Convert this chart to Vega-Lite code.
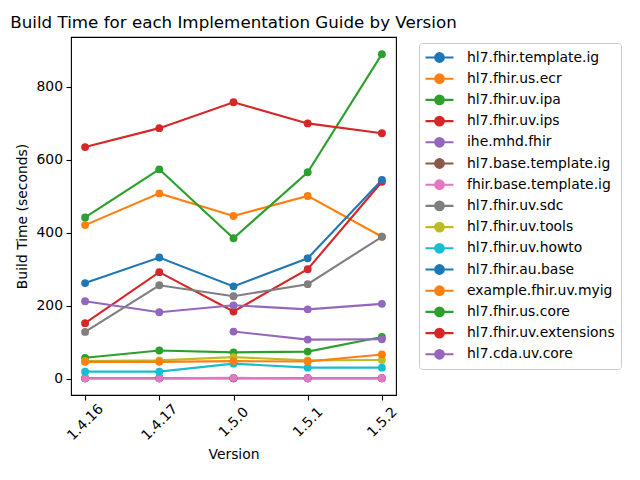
{
  "$schema": "https://vega.github.io/schema/vega-lite/v6.json",
  "autosize": "none",
  "width": 325,
  "height": 358,
  "padding": {"left": 71, "top": 37, "right": 244, "bottom": 85},
  "background": "white",
  "title": {"text": "Build Time for each Implementation Guide by Version", "font": "DejaVu Sans", "fontSize": 16.7, "fontWeight": "normal", "color": "black", "anchor": "middle", "baseline": "alphabetic", "offset": 9, "dy": 17},
  "config": {
    "view": {"stroke": "black", "strokeWidth": 1.1},
    "axis": {"labelFont": "DejaVu Sans", "labelFontSize": 13.9, "labelColor": "black", "titleFont": "DejaVu Sans", "titleFontSize": 13.9, "titleFontWeight": "normal", "titleColor": "black", "tickColor": "black", "tickWidth": 1.1, "tickSize": 5, "domain": false, "grid": false, "labelFlush": false, "labelOverlap": false}
  },
  "data": {"values": [
    {"ig": "hl7.fhir.template.ig", "version": "1.4.16", "time": 1},
    {"ig": "hl7.fhir.template.ig", "version": "1.4.17", "time": 1},
    {"ig": "hl7.fhir.template.ig", "version": "1.5.0", "time": 1},
    {"ig": "hl7.fhir.template.ig", "version": "1.5.1", "time": 1},
    {"ig": "hl7.fhir.template.ig", "version": "1.5.2", "time": 1},
    {"ig": "hl7.fhir.us.ecr", "version": "1.4.16", "time": 421},
    {"ig": "hl7.fhir.us.ecr", "version": "1.4.17", "time": 508},
    {"ig": "hl7.fhir.us.ecr", "version": "1.5.0", "time": 446},
    {"ig": "hl7.fhir.us.ecr", "version": "1.5.1", "time": 501},
    {"ig": "hl7.fhir.us.ecr", "version": "1.5.2", "time": 389},
    {"ig": "hl7.fhir.uv.ipa", "version": "1.4.16", "time": 57},
    {"ig": "hl7.fhir.uv.ipa", "version": "1.4.17", "time": 77},
    {"ig": "hl7.fhir.uv.ipa", "version": "1.5.0", "time": 72},
    {"ig": "hl7.fhir.uv.ipa", "version": "1.5.1", "time": 74},
    {"ig": "hl7.fhir.uv.ipa", "version": "1.5.2", "time": 114},
    {"ig": "hl7.fhir.uv.ips", "version": "1.4.16", "time": 152},
    {"ig": "hl7.fhir.uv.ips", "version": "1.4.17", "time": 292},
    {"ig": "hl7.fhir.uv.ips", "version": "1.5.0", "time": 184},
    {"ig": "hl7.fhir.uv.ips", "version": "1.5.1", "time": 300},
    {"ig": "hl7.fhir.uv.ips", "version": "1.5.2", "time": 540},
    {"ig": "ihe.mhd.fhir", "version": "1.4.16", "time": 212},
    {"ig": "ihe.mhd.fhir", "version": "1.4.17", "time": 182},
    {"ig": "ihe.mhd.fhir", "version": "1.5.0", "time": 201},
    {"ig": "ihe.mhd.fhir", "version": "1.5.1", "time": 190},
    {"ig": "ihe.mhd.fhir", "version": "1.5.2", "time": 205},
    {"ig": "hl7.base.template.ig", "version": "1.4.16", "time": 1},
    {"ig": "hl7.base.template.ig", "version": "1.4.17", "time": 1},
    {"ig": "hl7.base.template.ig", "version": "1.5.0", "time": 1},
    {"ig": "hl7.base.template.ig", "version": "1.5.1", "time": 1},
    {"ig": "hl7.base.template.ig", "version": "1.5.2", "time": 1},
    {"ig": "fhir.base.template.ig", "version": "1.4.16", "time": 1},
    {"ig": "fhir.base.template.ig", "version": "1.4.17", "time": 1},
    {"ig": "fhir.base.template.ig", "version": "1.5.0", "time": 2},
    {"ig": "fhir.base.template.ig", "version": "1.5.1", "time": 1},
    {"ig": "fhir.base.template.ig", "version": "1.5.2", "time": 1},
    {"ig": "hl7.fhir.uv.sdc", "version": "1.4.16", "time": 128},
    {"ig": "hl7.fhir.uv.sdc", "version": "1.4.17", "time": 256},
    {"ig": "hl7.fhir.uv.sdc", "version": "1.5.0", "time": 226},
    {"ig": "hl7.fhir.uv.sdc", "version": "1.5.1", "time": 259},
    {"ig": "hl7.fhir.uv.sdc", "version": "1.5.2", "time": 389},
    {"ig": "hl7.fhir.uv.tools", "version": "1.4.16", "time": 48},
    {"ig": "hl7.fhir.uv.tools", "version": "1.4.17", "time": 50},
    {"ig": "hl7.fhir.uv.tools", "version": "1.5.0", "time": 59},
    {"ig": "hl7.fhir.uv.tools", "version": "1.5.1", "time": 50},
    {"ig": "hl7.fhir.uv.tools", "version": "1.5.2", "time": 51},
    {"ig": "hl7.fhir.uv.howto", "version": "1.4.16", "time": 19},
    {"ig": "hl7.fhir.uv.howto", "version": "1.4.17", "time": 19},
    {"ig": "hl7.fhir.uv.howto", "version": "1.5.0", "time": 41},
    {"ig": "hl7.fhir.uv.howto", "version": "1.5.1", "time": 30},
    {"ig": "hl7.fhir.uv.howto", "version": "1.5.2", "time": 30},
    {"ig": "hl7.fhir.au.base", "version": "1.4.16", "time": 262},
    {"ig": "hl7.fhir.au.base", "version": "1.4.17", "time": 332},
    {"ig": "hl7.fhir.au.base", "version": "1.5.0", "time": 253},
    {"ig": "hl7.fhir.au.base", "version": "1.5.1", "time": 330},
    {"ig": "hl7.fhir.au.base", "version": "1.5.2", "time": 545},
    {"ig": "example.fhir.uv.myig", "version": "1.4.16", "time": 46},
    {"ig": "example.fhir.uv.myig", "version": "1.4.17", "time": 46},
    {"ig": "example.fhir.uv.myig", "version": "1.5.0", "time": 48},
    {"ig": "example.fhir.uv.myig", "version": "1.5.1", "time": 47},
    {"ig": "example.fhir.uv.myig", "version": "1.5.2", "time": 66},
    {"ig": "hl7.fhir.us.core", "version": "1.4.16", "time": 442},
    {"ig": "hl7.fhir.us.core", "version": "1.4.17", "time": 574},
    {"ig": "hl7.fhir.us.core", "version": "1.5.0", "time": 385},
    {"ig": "hl7.fhir.us.core", "version": "1.5.1", "time": 566},
    {"ig": "hl7.fhir.us.core", "version": "1.5.2", "time": 890},
    {"ig": "hl7.fhir.uv.extensions", "version": "1.4.16", "time": 635},
    {"ig": "hl7.fhir.uv.extensions", "version": "1.4.17", "time": 687},
    {"ig": "hl7.fhir.uv.extensions", "version": "1.5.0", "time": 758},
    {"ig": "hl7.fhir.uv.extensions", "version": "1.5.1", "time": 700},
    {"ig": "hl7.fhir.uv.extensions", "version": "1.5.2", "time": 673},
    {"ig": "hl7.cda.uv.core", "version": "1.5.0", "time": 129},
    {"ig": "hl7.cda.uv.core", "version": "1.5.1", "time": 107},
    {"ig": "hl7.cda.uv.core", "version": "1.5.2", "time": 108}
  ]},
  "mark": {"type": "line", "strokeWidth": 2.1, "point": {"filled": true, "size": 62, "opacity": 1}},
  "encoding": {
    "x": {"field": "version", "type": "ordinal", "scale": {"type": "point", "padding": 0.19, "domain": ["1.4.16", "1.4.17", "1.5.0", "1.5.1", "1.5.2"]},
      "axis": {"title": "Version", "labelAngle": -45, "labelAlign": "center", "labelBaseline": "middle", "labelPadding": 22, "titlePadding": 5}},
    "y": {"field": "time", "type": "quantitative", "scale": {"domain": [-45, 937], "nice": false, "zero": false},
      "axis": {"title": "Build Time (seconds)", "values": [0, 200, 400, 600, 800], "labelPadding": 3.5, "titlePadding": 6}},
    "color": {"field": "ig", "type": "nominal",
      "scale": {"domain": ["hl7.fhir.template.ig", "hl7.fhir.us.ecr", "hl7.fhir.uv.ipa", "hl7.fhir.uv.ips", "ihe.mhd.fhir", "hl7.base.template.ig", "fhir.base.template.ig", "hl7.fhir.uv.sdc", "hl7.fhir.uv.tools", "hl7.fhir.uv.howto", "hl7.fhir.au.base", "example.fhir.uv.myig", "hl7.fhir.us.core", "hl7.fhir.uv.extensions", "hl7.cda.uv.core"],
        "range": ["#1f77b4", "#ff7f0e", "#2ca02c", "#d62728", "#9467bd", "#8c564b", "#e377c2", "#7f7f7f", "#bcbd22", "#17becf", "#1f77b4", "#ff7f0e", "#2ca02c", "#d62728", "#9467bd"]},
      "legend": {"title": null, "orient": "none", "legendX": 348, "legendY": 6, "direction": "vertical",
        "symbolType": "M-1.143,0H2.857M1.477,0A0.62,0.62,0,1,1,0.237,0A0.62,0.62,0,1,1,1.477,0Z",
        "symbolSize": 196, "symbolStrokeWidth": 2.1, "symbolOpacity": 1,
        "labelFont": "DejaVu Sans", "labelFontSize": 13.9, "labelColor": "black", "labelOffset": 25, "labelLimit": 300,
        "rowPadding": 2.2, "padding": 6, "strokeColor": "#cccccc", "cornerRadius": 3, "fillColor": "white",
        "encode": {"symbols": {"update": {"fill": {"scale": "color", "field": "value"}, "stroke": {"scale": "color", "field": "value"}, "opacity": {"value": 1}}}}}
    }
  }
}
